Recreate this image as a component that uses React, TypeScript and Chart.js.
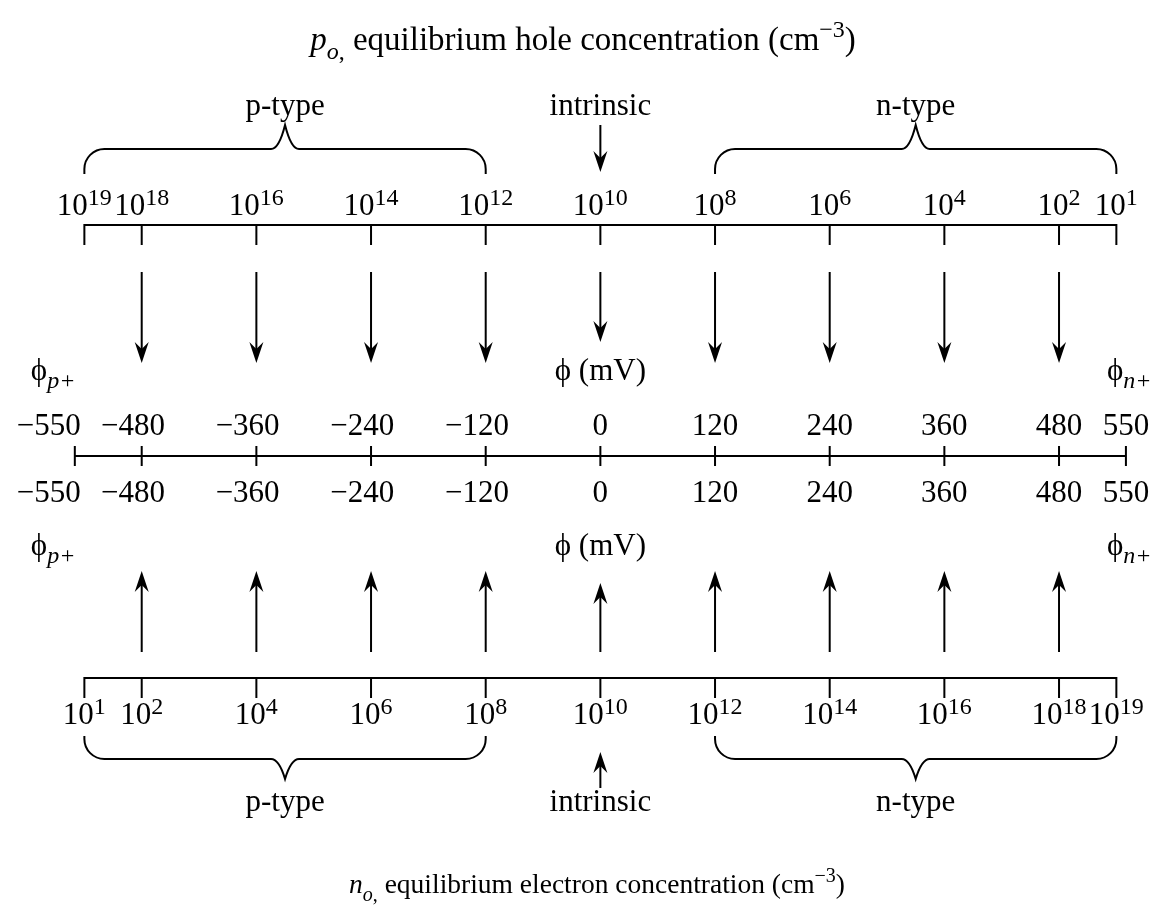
import { useEffect, useRef } from "react";
import { Chart, registerables } from "chart.js";

Chart.register(...registerables);

const WIDTH = 1165;
const HEIGHT = 924;

// ---------------- data ----------------
const holeExponents = [19, 18, 16, 14, 12, 10, 8, 6, 4, 2, 1];
const electronExponents = [1, 2, 4, 6, 8, 10, 12, 14, 16, 18, 19];
// potential (mV) at which each concentration tick sits
const concentrationPhi = [-540, -480, -360, -240, -120, 0, 120, 240, 360, 480, 540];
const phiTicks = [-550, -480, -360, -240, -120, 0, 120, 240, 360, 480, 550];
const arrowPhi = [-480, -360, -240, -120, 0, 120, 240, 360, 480];
const regionLabels = ["p-type", "n-type"];
const regionFrom = [-540, 120];
const regionTo = [-120, 540];
const intrinsicPhi = 0;

// ---------------- layout (pixel rows) ----------------
const X_MIN = -628.3;
const X_MAX = 590.9;
const ROW = {
  topTitle: 50,
  topType: 115,
  topBraceTip: 125,
  topBraceMid: 149,
  topBraceEnd: 174,
  topIntrinsicFrom: 125,
  topIntrinsicTo: 172,
  topTickLabel: 215,
  topAxis: 225,
  downArrowFrom: 272,
  downArrowTo: 363,
  downArrowCenterTo: 342,
  phiRowTop: 380,
  midLabelTop: 435,
  midAxis: 456,
  midLabelBottom: 502,
  phiRowBottom: 555,
  upArrowFrom: 652,
  upArrowTo: 571,
  upArrowCenterTo: 583,
  botAxis: 678,
  botTickLabel: 724,
  botBraceEnd: 736,
  botBraceMid: 759,
  botBraceTip: 779,
  botIntrinsicFrom: 788,
  botIntrinsicTo: 752,
  botType: 811,
  botTitle: 893,
};
const TICK = 20;
const MID_TICK = 10;
const FS = 31;
const FS_SUP = 24;
const FS_SUB = 24;
const FS_TOP_TITLE = 33;
const FS_BOT_TITLE = 27.5;
const FAMILY = '"Liberation Serif", "Times New Roman", Times, "DejaVu Serif", serif';

type Part = { t: string; size: number; italic?: boolean; dy?: number };

function fontOf(size: number, italic?: boolean) {
  return `${italic ? "italic " : ""}${size}px ${FAMILY}`;
}

function drawParts(
  ctx: CanvasRenderingContext2D,
  parts: Part[],
  x: number,
  y: number,
  align: "left" | "center" | "right"
) {
  const widths = parts.map((p) => {
    ctx.font = fontOf(p.size, p.italic);
    return ctx.measureText(p.t).width;
  });
  const total = widths.reduce((a, b) => a + b, 0);
  let cx = align === "center" ? x - total / 2 : align === "right" ? x - total : x;
  ctx.textAlign = "left";
  ctx.textBaseline = "alphabetic";
  ctx.fillStyle = "#000";
  parts.forEach((p, i) => {
    ctx.font = fontOf(p.size, p.italic);
    ctx.fillText(p.t, cx, y + (p.dy || 0));
    cx += widths[i];
  });
}

function seg(x1: number, y1: number, x2: number, y2: number, w = 2) {
  return {
    data: [
      { x: x1, y: y1 },
      { x: x2, y: y2 },
    ],
    showLine: true,
    borderColor: "#000",
    backgroundColor: "#000",
    borderWidth: w,
    pointRadius: 0,
    borderCapStyle: "butt" as const,
    fill: false,
  };
}

function buildDatasets() {
  const ds: any[] = [];
  const first = concentrationPhi[0];
  const last = concentrationPhi[concentrationPhi.length - 1];
  // top axis
  ds.push(seg(first, ROW.topAxis, last, ROW.topAxis));
  concentrationPhi.forEach((v) => ds.push(seg(v, ROW.topAxis - 1, v, ROW.topAxis + TICK)));
  // bottom axis
  ds.push(seg(first, ROW.botAxis, last, ROW.botAxis));
  concentrationPhi.forEach((v) => ds.push(seg(v, ROW.botAxis - 1, v, ROW.botAxis + TICK)));
  // middle phi axis
  ds.push(seg(phiTicks[0], ROW.midAxis, phiTicks[phiTicks.length - 1], ROW.midAxis));
  phiTicks.forEach((v) => ds.push(seg(v, ROW.midAxis - MID_TICK, v, ROW.midAxis + MID_TICK)));
  // arrow shafts
  arrowPhi.forEach((v) => {
    const dTo = v === intrinsicPhi ? ROW.downArrowCenterTo : ROW.downArrowTo;
    ds.push(seg(v, ROW.downArrowFrom, v, dTo - 12));
    const uTo = v === intrinsicPhi ? ROW.upArrowCenterTo : ROW.upArrowTo;
    ds.push(seg(v, ROW.upArrowFrom, v, uTo + 12));
  });
  // intrinsic arrows
  ds.push(seg(intrinsicPhi, ROW.topIntrinsicFrom, intrinsicPhi, ROW.topIntrinsicTo - 12));
  ds.push(seg(intrinsicPhi, ROW.botIntrinsicFrom, intrinsicPhi, ROW.botIntrinsicTo + 12));
  return ds;
}

const overlayPlugin = {
  id: "overlay",
  afterDatasetsDraw(chart: any) {
    const ctx: CanvasRenderingContext2D = chart.ctx;
    const xs = chart.scales.x;
    const ys = chart.scales.y;
    const px = (v: number) => xs.getPixelForValue(v);
    const py = (v: number) => ys.getPixelForValue(v);
    ctx.save();

    // arrowheads
    const head = (v: number, tipY: number, dir: number) => {
      const x = px(v);
      const y = py(tipY);
      ctx.beginPath();
      ctx.moveTo(x, y);
      ctx.lineTo(x - 7, y - dir * 21);
      ctx.lineTo(x, y - dir * 14);
      ctx.lineTo(x + 7, y - dir * 21);
      ctx.closePath();
      ctx.fillStyle = "#000";
      ctx.fill();
    };
    arrowPhi.forEach((v) => {
      head(v, v === intrinsicPhi ? ROW.downArrowCenterTo : ROW.downArrowTo, 1);
      head(v, v === intrinsicPhi ? ROW.upArrowCenterTo : ROW.upArrowTo, -1);
    });
    head(intrinsicPhi, ROW.topIntrinsicTo, 1);
    head(intrinsicPhi, ROW.botIntrinsicTo, -1);

    // braces
    const brace = (from: number, to: number, yEnd: number, yMid: number, yTip: number) => {
      const x0 = px(from);
      const x1 = px(to);
      const xm = (x0 + x1) / 2;
      const r = 20;
      const e = py(yEnd);
      const m = py(yMid);
      const t = py(yTip);
      ctx.beginPath();
      ctx.moveTo(x0, e);
      ctx.arcTo(x0, m, x0 + r, m, r);
      ctx.lineTo(xm - 14, m);
      ctx.quadraticCurveTo(xm - 6, m, xm, t);
      ctx.quadraticCurveTo(xm + 6, m, xm + 14, m);
      ctx.lineTo(x1 - r, m);
      ctx.arcTo(x1, m, x1, e, r);
      ctx.lineTo(x1, e);
      ctx.lineWidth = 2;
      ctx.strokeStyle = "#000";
      ctx.stroke();
      return xm;
    };
    regionLabels.forEach((lab, i) => {
      const xmTop = brace(regionFrom[i], regionTo[i], ROW.topBraceEnd, ROW.topBraceMid, ROW.topBraceTip);
      drawParts(ctx, [{ t: lab, size: FS }], xmTop, py(ROW.topType), "center");
      const xmBot = brace(regionFrom[i], regionTo[i], ROW.botBraceEnd, ROW.botBraceMid, ROW.botBraceTip);
      drawParts(ctx, [{ t: lab, size: FS }], xmBot, py(ROW.botType), "center");
    });
    drawParts(ctx, [{ t: "intrinsic", size: FS }], px(intrinsicPhi), py(ROW.topType), "center");
    drawParts(ctx, [{ t: "intrinsic", size: FS }], px(intrinsicPhi), py(ROW.botType), "center");

    // concentration tick labels
    concentrationPhi.forEach((v, i) => {
      drawParts(
        ctx,
        [
          { t: "10", size: FS },
          { t: String(holeExponents[i]), size: FS_SUP, dy: -10 },
        ],
        px(v),
        py(ROW.topTickLabel),
        "center"
      );
      drawParts(
        ctx,
        [
          { t: "10", size: FS },
          { t: String(electronExponents[i]), size: FS_SUP, dy: -10 },
        ],
        px(v),
        py(ROW.botTickLabel),
        "center"
      );
    });

    // phi tick labels
    ctx.font = fontOf(FS);
    const minusW = ctx.measureText("\u2212").width;
    phiTicks.forEach((v, i) => {
      const txt = v < 0 ? "\u2212" + Math.abs(v) : String(v);
      let x = px(v);
      let align: "center" | "right" = "center";
      if (i === 0) {
        x = x + 6;
        align = "right";
      } else if (v < 0) {
        x = x - minusW / 2;
      }
      drawParts(ctx, [{ t: txt, size: FS }], x, py(ROW.midLabelTop), align);
      drawParts(ctx, [{ t: txt, size: FS }], x, py(ROW.midLabelBottom), align);
    });

    // phi row labels
    const leftX = px(phiTicks[0]) - 44;
    const rightX = px(phiTicks[phiTicks.length - 1]) - 19;
    [ROW.phiRowTop, ROW.phiRowBottom].forEach((row) => {
      const y = py(row);
      drawParts(ctx, [{ t: "\u03D5", size: FS }, { t: "p+", size: FS_SUB, italic: true, dy: 8 }], leftX, y, "left");
      drawParts(ctx, [{ t: "\u03D5", size: FS }, { t: "n+", size: FS_SUB, italic: true, dy: 8 }], rightX, y, "left");
      drawParts(ctx, [{ t: "\u03D5 (mV)", size: FS }], px(intrinsicPhi), y, "center");
    });

    // titles
    drawParts(
      ctx,
      [
        { t: "p", size: FS_TOP_TITLE, italic: true },
        { t: "o", size: 24, italic: true, dy: 9 },
        { t: ",", size: 24, dy: 9 },
        { t: " equilibrium hole concentration (cm", size: FS_TOP_TITLE },
        { t: "\u22123", size: 24, dy: -13 },
        { t: ")", size: FS_TOP_TITLE },
      ],
      583,
      py(ROW.topTitle),
      "center"
    );
    drawParts(
      ctx,
      [
        { t: "n", size: FS_BOT_TITLE, italic: true },
        { t: "o", size: 20, italic: true, dy: 8 },
        { t: ",", size: 20, dy: 8 },
        { t: " equilibrium electron concentration (cm", size: FS_BOT_TITLE },
        { t: "\u22123", size: 20, dy: -11 },
        { t: ")", size: FS_BOT_TITLE },
      ],
      597,
      py(ROW.botTitle),
      "center"
    );
    ctx.restore();
  },
};

export default function App() {
  const ref = useRef<HTMLCanvasElement | null>(null);
  useEffect(() => {
    if (!ref.current) return;
    const chart = new Chart(ref.current, {
      type: "scatter",
      data: { datasets: buildDatasets() },
      options: {
        animation: false,
        responsive: false,
        devicePixelRatio: 1,
        events: [],
        layout: { padding: 0 },
        plugins: { legend: { display: false }, tooltip: { enabled: false } },
        scales: {
          x: { type: "linear", min: X_MIN, max: X_MAX, display: false },
          y: { type: "linear", min: 0, max: HEIGHT, reverse: true, display: false },
        },
      },
      plugins: [overlayPlugin],
    } as any);
    return () => chart.destroy();
  }, []);
  return (
    <div
      style={{
        position: "fixed",
        left: 0,
        top: 0,
        width: WIDTH,
        height: HEIGHT,
        background: "#fff",
      }}
    >
      <canvas ref={ref} width={WIDTH} height={HEIGHT} style={{ display: "block" }} />
    </div>
  );
}
